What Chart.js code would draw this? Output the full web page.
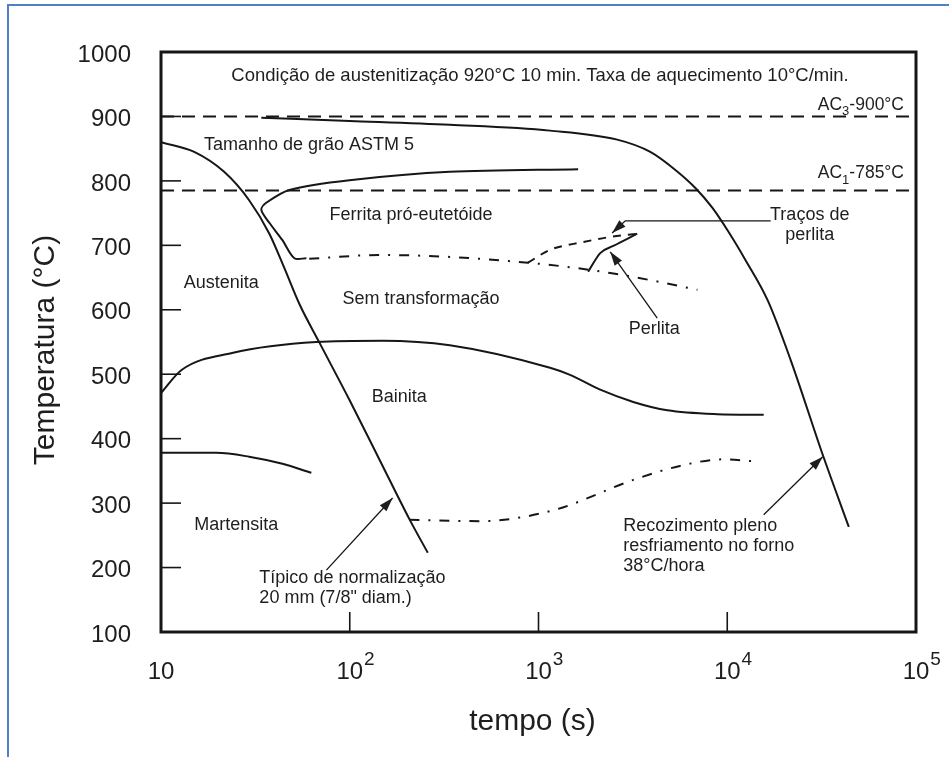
<!DOCTYPE html>
<html lang="pt">
<head>
<meta charset="UTF-8">
<title>Diagrama TRC</title>
<script src="https://cdn.jsdelivr.net/npm/chart.js@4.4.1/dist/chart.umd.min.js"></script>
<style>
    html, body { margin: 0; padding: 0; background: #fff; }
    #wrap { position: relative; width: 949px; height: 757px; overflow: hidden; }
    #frame { position: absolute; left: 7px; top: 4px; width: 960px; height: 780px;
             border-top: 2px solid #4f7fc4; border-left: 2px solid #4f7fc4; }
    canvas { position: absolute; left: 0; top: 0; }
</style>
</head>
<body>
<div id="wrap">
    <div id="frame"></div>
    <canvas id="chart" width="949" height="757"></canvas>
</div>
<script>
// tempo (s) / temperatura (°C)
const acTime = [10, 100000];
const ac3Temp = [900, 900];
const ac1Temp = [785, 785];

const annealTime = [34, 100, 339, 1151, 2612, 3911, 5311, 6781, 8349, 10150, 12500, 16360, 21680, 32060, 44060];
const annealTemp = [898, 893, 887, 878, 864, 845, 817, 789, 758, 721, 677, 615, 522, 375, 263];

const normalTime = [10, 15, 21.6, 29.3, 37.5, 45, 54.1, 69.1, 99.7, 144, 208, 259];
const normalTemp = [860, 845, 814, 770, 718, 665, 609, 549, 460, 367, 274, 223];

const ferriteTime = [1622, 339, 99.7, 47.9, 36.1, 34, 37.5, 44, 50.9, 58.9];
const ferriteTemp = [818, 814, 801, 786, 766, 755, 735, 708, 680, 680];

const pearliteTime = [61, 144, 339, 879, 1469, 2399, 3907, 6950];
const pearliteTemp = [679, 685, 682, 673, 666, 657, 646, 631];

const tracesTime = [879, 1151, 1722, 2399, 3334];
const tracesTemp = [673, 693, 705, 713, 718];

const perlitaTime = [1833, 2123, 2489, 3334];
const perlitaTemp = [659, 688, 699, 718];

const bainiteTime = [10, 12.9, 23.8, 66.5, 149, 339, 1151, 1469, 2123, 3178, 4816, 8870, 15600];
const bainiteTemp = [471, 507, 533, 550, 552, 545, 510, 499, 476, 457, 444, 438, 437];

const bainEndTime = [207, 489, 1200, 3178, 5860, 9550, 13760];
const bainEndTemp = [274, 272, 289, 336, 359, 368, 365];

const martTime = [10, 19.6, 29.3, 44, 62.6];
const martTemp = [378, 378, 372, 361, 347];

const xTicks = [10, 100, 1000, 10000, 100000];
const xTickExp = ['', '2', '3', '4', '5'];
const yTicks = [100, 200, 300, 400, 500, 600, 700, 800, 900, 1000];

// labels: [text, tempo, temperatura, align]
const labels = [
    ['Condição de austenitização 920°C 10 min. Taxa de aquecimento 10°C/min.', 1019, 963, 'center'],
    ['Tamanho de grão ASTM 5', 16.9, 856, 'left'],
    ['Ferrita pró-eutetóide', 78, 747, 'left'],
    ['Austenita', 13.2, 642, 'left'],
    ['Sem transformação', 91.4, 617, 'left'],
    ['Traços de', 27350, 747, 'center'],
    ['perlita', 27350, 716, 'center'],
    ['Perlita', 4110, 570, 'center'],
    ['Bainita', 130.6, 465, 'left'],
    ['Martensita', 15, 266, 'left'],
    ['Típico de normalização', 33.2, 184, 'left'],
    ['20 mm (7/8" diam.)', 33.2, 153, 'left'],
    ['Recozimento pleno', 2812, 264, 'left'],
    ['resfriamento no forno', 2812, 233, 'left'],
    ['38°C/hora', 2812, 202, 'left']
];

// arrows: list of [tempo, temperatura] points, last one is the tip
const arrows = [
    [[16990, 738], [2884, 738], [2455, 719]],
    [[4256, 587], [2399, 690]],
    [[75.2, 196], [168.7, 308]],
    [[15600, 282], [32060, 372]]
];

function pts(xs, ys) {
    return xs.map((x, i) => ({ x: x, y: ys[i] }));
}

function line(xs, ys, dash, bent) {
    const ds = {
        data: pts(xs, ys),
        borderColor: '#161616',
        borderWidth: 2,
        borderDash: dash || [],
        pointRadius: 0,
        fill: false
    };
    if (bent) ds.tension = 0.3;
    else ds.cubicInterpolationMode = 'monotone';
    return ds;
}

const FONT = '"Liberation Sans", Arial, sans-serif';

const decorPlugin = {
    id: 'decor',
    afterDatasetsDraw(chart) {
        const ctx = chart.ctx;
        const a = chart.chartArea;
        const xs = chart.scales.x, ys = chart.scales.y;
        ctx.save();
        ctx.strokeStyle = '#161616';
        ctx.fillStyle = '#1e1e1e';

        // frame
        ctx.lineWidth = 3;
        ctx.strokeRect(a.left, a.top, a.right - a.left, a.bottom - a.top);

        // inner ticks
        ctx.lineWidth = 1.6;
        yTicks.slice(1, -1).forEach(v => {
            const y = ys.getPixelForValue(v);
            ctx.beginPath(); ctx.moveTo(a.left, y); ctx.lineTo(a.left + 20, y); ctx.stroke();
        });
        xTicks.slice(1, -1).forEach(v => {
            const x = xs.getPixelForValue(v);
            ctx.beginPath(); ctx.moveTo(x, a.bottom); ctx.lineTo(x, a.bottom - 20); ctx.stroke();
        });

        // y tick labels
        ctx.font = '24px ' + FONT;
        ctx.textAlign = 'right';
        ctx.textBaseline = 'middle';
        yTicks.forEach(v => ctx.fillText(String(v), a.left - 30, ys.getPixelForValue(v) + 3));

        // x tick labels with exponents
        xTicks.forEach((v, i) => {
            const x = xs.getPixelForValue(v);
            ctx.font = '24px ' + FONT;
            ctx.textAlign = 'center';
            ctx.textBaseline = 'middle';
            ctx.fillText('10', x, a.bottom + 40);
            if (xTickExp[i]) {
                const w = ctx.measureText('10').width;
                ctx.font = '19px ' + FONT;
                ctx.textAlign = 'left';
                ctx.fillText(xTickExp[i], x + w / 2 + 1, a.bottom + 28);
            }
        });

        // axis titles
        ctx.font = '30px ' + FONT;
        ctx.textAlign = 'center';
        ctx.textBaseline = 'middle';
        ctx.fillText('tempo (s)', xs.getPixelForValue(1000) - 6, 722);
        ctx.save();
        ctx.translate(46, (a.top + a.bottom) / 2 + 8);
        ctx.rotate(-Math.PI / 2);
        ctx.fillText('Temperatura (°C)', 0, 0);
        ctx.restore();

        // AC labels
        ctx.textAlign = 'left';
        ctx.textBaseline = 'middle';
        [['3', '-900°C', 918], ['1', '-785°C', 812]].forEach(([sub, rest, t]) => {
            const y = ys.getPixelForValue(t);
            ctx.font = '17.5px ' + FONT;
            const wA = ctx.measureText('AC').width;
            const wR = ctx.measureText(rest).width;
            ctx.font = '13px ' + FONT;
            const wS = ctx.measureText(sub).width;
            const x = a.right - 12 - (wA + wS + wR);
            ctx.font = '17.5px ' + FONT;
            ctx.fillText('AC', x, y);
            ctx.font = '13px ' + FONT;
            ctx.fillText(sub, x + wA, y + 7);
            ctx.font = '17.5px ' + FONT;
            ctx.fillText(rest, x + wA + wS, y);
        });

        // region labels
        labels.forEach(([txt, t, T, align], i) => {
            ctx.font = (i === 0 ? '18.5px ' : '18px ') + FONT;
            ctx.textAlign = align;
            ctx.textBaseline = 'middle';
            ctx.fillText(txt, xs.getPixelForValue(t), ys.getPixelForValue(T));
        });

        // arrows
        ctx.lineWidth = 1.3;
        arrows.forEach(path => {
            const p = path.map(([t, T]) => [xs.getPixelForValue(t), ys.getPixelForValue(T)]);
            ctx.beginPath();
            ctx.moveTo(p[0][0], p[0][1]);
            p.slice(1).forEach(q => ctx.lineTo(q[0], q[1]));
            ctx.stroke();
            const [x1, y1] = p[p.length - 2], [x2, y2] = p[p.length - 1];
            const ang = Math.atan2(y2 - y1, x2 - x1);
            const L = 14, W = 4.5;
            ctx.beginPath();
            ctx.moveTo(x2, y2);
            ctx.lineTo(x2 - L * Math.cos(ang) + W * Math.sin(ang), y2 - L * Math.sin(ang) - W * Math.cos(ang));
            ctx.lineTo(x2 - L * Math.cos(ang) - W * Math.sin(ang), y2 - L * Math.sin(ang) + W * Math.cos(ang));
            ctx.closePath();
            ctx.fill();
        });
        ctx.restore();
    }
};

new Chart(document.getElementById('chart'), {
    type: 'line',
    data: {
        datasets: [
            line(acTime, ac3Temp, [13, 8]),
            line(acTime, ac1Temp, [13, 8]),
            line(annealTime, annealTemp),
            line(normalTime, normalTemp),
            line(ferriteTime, ferriteTemp, null, true),
            line(pearliteTime, pearliteTemp, [10, 9, 2, 9]),
            line(tracesTime, tracesTemp, [8, 7]),
            line(perlitaTime, perlitaTemp),
            line(bainiteTime, bainiteTemp),
            line(bainEndTime, bainEndTemp, [10, 9, 2, 9]),
            line(martTime, martTemp)
        ]
    },
    options: {
        responsive: false,
        animation: false,
        layout: { padding: { left: 161, right: 33, top: 52, bottom: 125 } },
        plugins: { legend: { display: false }, tooltip: { enabled: false } },
        scales: {
            x: { type: 'logarithmic', min: 10, max: 100000, display: false },
            y: { type: 'linear', min: 100, max: 1000, display: false }
        }
    },
    plugins: [decorPlugin]
});
</script>
</body>
</html>
